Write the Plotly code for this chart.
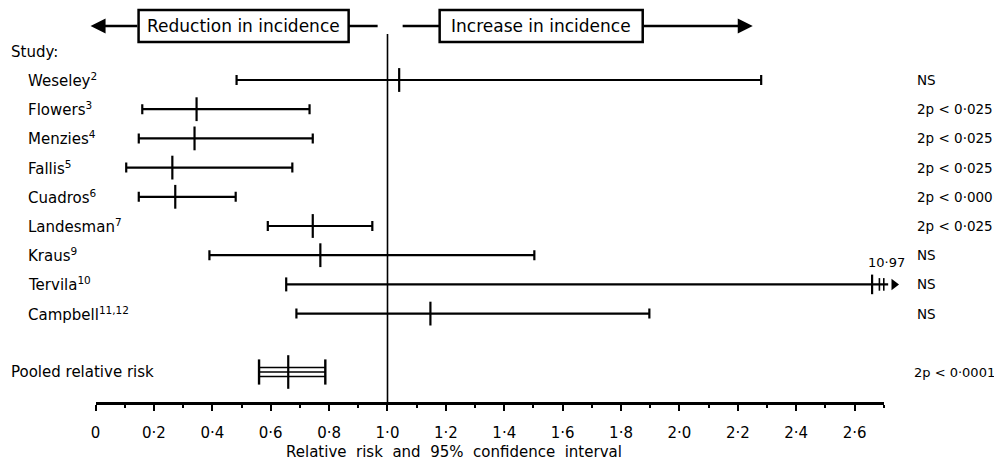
import plotly.graph_objects as go

# ---------------- data ----------------
studies = ["Weseley", "Flowers", "Menzies", "Fallis", "Cuadros",
           "Landesman", "Kraus", "Tervila", "Campbell"]
refs = ["2", "3", "4", "5", "6", "7", "9", "10", "11,12"]
rr = [1.04, 0.346, 0.339, 0.263, 0.273, 0.744, 0.77, 2.66, 1.147]
lo = [0.483, 0.16, 0.148, 0.105, 0.148, 0.59, 0.39, 0.653, 0.688]
hi = [2.28, 0.733, 0.744, 0.674, 0.48, 0.948, 1.503, 10.97, 1.897]
p_text = ["NS", "2p < 0·025", "2p < 0·025", "2p < 0·025", "2p < 0·0001",
          "2p < 0·025", "NS", "NS", "NS"]

pooled_label = "Pooled relative risk"
pooled_rr = 0.66
pooled_lo = 0.56
pooled_hi = 0.787
pooled_p = "2p < 0·0001"

tick_vals = [0, 0.2, 0.4, 0.6, 0.8, 1.0, 1.2, 1.4, 1.6, 1.8, 2.0, 2.2, 2.4, 2.6]
tick_text = ["0", "0·2", "0·4", "0·6", "0·8", "1·0", "1·2", "1·4", "1·6",
             "1·8", "2·0", "2·2", "2·4", "2·6"]
minor_vals = [0.1, 0.3, 0.5, 0.7, 0.9, 1.1, 1.3, 1.5, 1.7, 1.9, 2.1, 2.3, 2.5, 2.7]

# ---------------- layout geometry ----------------
OFF = 8                         # page body margin
W, H = 1002 - OFF, 463 - OFF
XMAX = 2.7


def fx(x):            # target window pixel (horizontal) -> figure pixel
    return (x - 4.5) / 0.9947 - OFF


def fy(y):            # target window pixel (vertical) -> figure pixel
    return y - OFF


X0PX = fx(95.0)                  # figure pixel of x = 0
PPU = (fx(883.0) - X0PX) / XMAX  # pixels per unit
ROW0PX, ROWPX = fy(80.0), 29.2
AXIS_PX = 403.0

xr = [-X0PX / PPU, (W - X0PX) / PPU]
yr = [(H - ROW0PX) / ROWPX, -ROW0PX / ROWPX]   # reversed


def px(x):
    return fx(x) / W


def py(y):
    return 1 - fy(y) / H


def prow(ypix):
    return (fy(ypix) - ROW0PX) / ROWPX


FONT = "DejaVu Sans"
BLACK = "black"

fig = go.Figure()

rows = list(range(len(studies)))
normal = [i for i in rows if hi[i] <= XMAX]
over = [i for i in rows if hi[i] > XMAX]

fig.add_trace(go.Scatter(
    x=[rr[i] for i in normal], y=[i for i in normal], mode="markers",
    marker=dict(symbol="line-ns", size=17, line=dict(width=2.2, color=BLACK), color=BLACK),
    error_x=dict(type="data", symmetric=False,
                 array=[hi[i] - rr[i] for i in normal],
                 arrayminus=[rr[i] - lo[i] for i in normal],
                 width=5, thickness=2.2, color=BLACK),
    showlegend=False, hoverinfo="skip", cliponaxis=False))

arrow_x, brk = 2.735, [2.685, 2.70]
for i in over:
    fig.add_trace(go.Scatter(x=[lo[i], arrow_x - 0.02], y=[i, i], mode="lines",
                             line=dict(color=BLACK, width=2.2),
                             showlegend=False, hoverinfo="skip"))
    fig.add_trace(go.Scatter(x=[lo[i]], y=[i], mode="markers",
                             marker=dict(symbol="line-ns", size=10,
                                         line=dict(width=2.2, color=BLACK)),
                             showlegend=False, hoverinfo="skip"))
    fig.add_trace(go.Scatter(x=[rr[i]], y=[i], mode="markers",
                             marker=dict(symbol="line-ns", size=14,
                                         line=dict(width=2.2, color=BLACK)),
                             showlegend=False, hoverinfo="skip"))
    fig.add_trace(go.Scatter(x=brk, y=[i, i], mode="markers",
                             marker=dict(symbol="line-ns", size=9,
                                         line=dict(width=1.6, color=BLACK)),
                             showlegend=False, hoverinfo="skip"))
    fig.add_trace(go.Scatter(x=[arrow_x], y=[i], mode="markers",
                             marker=dict(symbol="triangle-right", size=10, color=BLACK),
                             showlegend=False, hoverinfo="skip"))
    fig.add_annotation(x=arrow_x - 0.025, y=i - 0.42, xref="x", yref="y",
                       text=f"{hi[i]:.2f}".replace(".", "·"), showarrow=False,
                       xanchor="center", yanchor="bottom",
                       font=dict(family=FONT, size=13, color=BLACK))

prow_y = len(studies) + 1
for off in (-0.15, 0.0, 0.15):
    fig.add_trace(go.Scatter(x=[pooled_lo, pooled_hi], y=[prow_y + off] * 2,
                             mode="lines", line=dict(color=BLACK, width=1.5),
                             showlegend=False, hoverinfo="skip"))
fig.add_trace(go.Scatter(x=[pooled_lo, pooled_hi], y=[prow_y] * 2, mode="markers",
                         marker=dict(symbol="line-ns", size=18,
                                     line=dict(width=2.4, color=BLACK)),
                         showlegend=False, hoverinfo="skip"))
fig.add_trace(go.Scatter(x=[pooled_rr], y=[prow_y], mode="markers",
                         marker=dict(symbol="line-ns", size=24,
                                     line=dict(width=2.2, color=BLACK)),
                         showlegend=False, hoverinfo="skip"))

fig.add_trace(go.Scatter(x=[0], y=[0], xaxis="x2", yaxis="y", mode="markers",
                         marker=dict(opacity=0), showlegend=False, hoverinfo="skip"))

fig.add_shape(type="line", xref="x", yref="paper", x0=1.0, x1=1.0,
              y0=py(AXIS_PX), y1=py(34), line=dict(color=BLACK, width=1.6))

fig.add_annotation(x=px(8), y=prow(52), xref="paper", yref="y", text="Study:",
                   showarrow=False, xanchor="left", yanchor="middle",
                   font=dict(family=FONT, size=15, color=BLACK))
for i, (s, r) in enumerate(zip(studies, refs)):
    fig.add_annotation(x=px(25), y=i, xref="paper", yref="y",
                       text=f"{s}<sup>{r}</sup>", showarrow=False,
                       xanchor="left", yanchor="middle",
                       font=dict(family=FONT, size=15, color=BLACK))
    fig.add_annotation(x=px(914), y=i, xref="paper", yref="y", text=p_text[i],
                       showarrow=False, xanchor="left", yanchor="middle",
                       font=dict(family=FONT, size=13.5, color=BLACK))
fig.add_annotation(x=px(911), y=prow_y, xref="paper", yref="y", text=pooled_p,
                   showarrow=False, xanchor="left", yanchor="middle",
                   font=dict(family=FONT, size=13, color=BLACK))
fig.add_annotation(x=px(8), y=prow_y, xref="paper", yref="y", text=pooled_label,
                   showarrow=False, xanchor="left", yanchor="middle",
                   font=dict(family=FONT, size=15, color=BLACK))

HY = 26
boxes = [(138, 348, "Reduction in incidence"), (439, 642, "Increase in incidence")]
for x0, x1, t in boxes:
    fig.add_shape(type="rect", xref="paper", yref="paper",
                  x0=px(x0), x1=px(x1), y0=py(42), y1=py(10),
                  line=dict(color=BLACK, width=2.5), fillcolor="white")
    fig.add_annotation(x=px((x0 + x1) / 2), y=py(HY), xref="paper", yref="paper",
                       text=t, showarrow=False, xanchor="center", yanchor="middle",
                       font=dict(family=FONT, size=17, color=BLACK))
for x0, x1 in [(348, 377), (402, 439)]:
    fig.add_shape(type="line", xref="paper", yref="paper", x0=px(x0), x1=px(x1),
                  y0=py(HY), y1=py(HY), line=dict(color=BLACK, width=2.5))
for head, tail in [(90, 138), (752, 642)]:
    fig.add_annotation(x=px(head), y=py(HY), xref="paper", yref="paper",
                       ax=fx(tail) - fx(head), ay=0, text="", showarrow=True,
                       arrowhead=2, arrowsize=1.2, arrowwidth=2.5,
                       arrowcolor=BLACK, standoff=0)

fig.add_annotation(x=px(453), y=py(452), xref="paper", yref="paper",
                   text="Relative  risk  and  95%  confidence  interval",
                   showarrow=False, xanchor="center", yanchor="middle",
                   font=dict(family=FONT, size=15, color=BLACK))

fig.update_layout(
    width=W, height=H, margin=dict(l=0, r=0, t=0, b=0),
    paper_bgcolor="white", plot_bgcolor="rgba(0,0,0,0)", showlegend=False,
    xaxis=dict(range=xr, domain=[0, 1], visible=False, fixedrange=True),
    yaxis=dict(range=yr, domain=[0, 1], visible=False, fixedrange=True),
    xaxis2=dict(range=[0, XMAX], domain=[X0PX / W, (X0PX + XMAX * PPU) / W],
                anchor="free", position=py(AXIS_PX), showline=True,
                linecolor=BLACK, linewidth=3, showgrid=False, zeroline=False,
                tickmode="array", tickvals=tick_vals, ticktext=tick_text,
                ticks="outside", ticklen=6, tickwidth=2, tickcolor=BLACK,
                ticklabelstandoff=9,
                minor=dict(tickmode="array", tickvals=minor_vals, ticks="outside",
                           ticklen=3, tickwidth=2, tickcolor=BLACK),
                tickfont=dict(family=FONT, size=15, color=BLACK),
                fixedrange=True),
)

fig.write_html("out.html")
